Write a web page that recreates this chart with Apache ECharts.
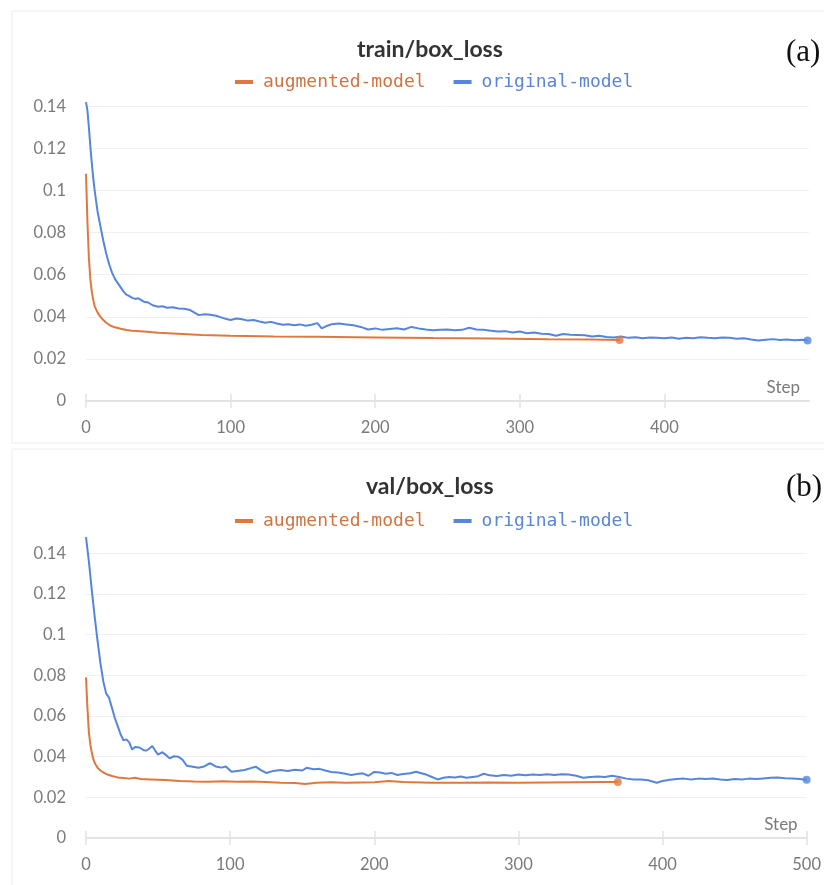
<!DOCTYPE html>
<html>
<head>
<meta charset="utf-8">
<script src="https://cdn.jsdelivr.net/npm/echarts@6/dist/echarts.min.js"></script>
<style>
  html, body { margin: 0; padding: 0; background: #fff; }
  #chart { width: 824px; height: 885px; }
</style>
</head>
<body>
<div id="chart"></div>
<script>
// [step, value] pairs
var trainAug = [[0,0.108],[1,0.085],[2,0.068],[3,0.058],[4,0.052],[5,0.048],[6,0.045],[8,0.042],[10,0.040],[12,0.0385],[14,0.0372],[16,0.0362],[18,0.0355],[20,0.0350],[24,0.0343],[28,0.0337],[32,0.0334],[40,0.0330],[50,0.0324],[60,0.0321],[80,0.0314],[100,0.0310],[130,0.0307],[160,0.0305],[200,0.0302],[240,0.0299],[280,0.0297],[320,0.0294],[350,0.0292],[369,0.0290]];

var trainOrig = [[0,0.142],[1,0.138],[2,0.130],[3,0.121],[4,0.113],[5,0.106],[6,0.100],[7,0.095],[8,0.090],[10,0.083],[12,0.076],[14,0.070],[16,0.065],[18,0.061],[20,0.058],[22,0.056],[24,0.054],[26,0.052],[28,0.0505],[30,0.0498],[32,0.0490],[34,0.0485],[36,0.0488],[38,0.0480],[40,0.0472],[43,0.0468],[46,0.0455],[50,0.0448],[53,0.0450],[56,0.0443],[60,0.0445],[64,0.0440],[68,0.0438],[72,0.0432],[75,0.0420],[78,0.0408],[82,0.0412],[86,0.0410],[90,0.0405],[94,0.0396],[97,0.0390],[100,0.0385],[104,0.0392],[108,0.0388],[112,0.0382],[116,0.0385],[120,0.0378],[124,0.0372],[128,0.0376],[132,0.0368],[136,0.0362],[140,0.0365],[144,0.0360],[148,0.0364],[152,0.0358],[156,0.0362],[160,0.0370],[163,0.0345],[166,0.0355],[170,0.0365],[175,0.0368],[180,0.0364],[185,0.0360],[190,0.0352],[195,0.0340],[200,0.0345],[205,0.0338],[210,0.0342],[215,0.0346],[220,0.0340],[225,0.0352],[230,0.0345],[235,0.0340],[240,0.0336],[245,0.0338],[250,0.0340],[255,0.0336],[260,0.0338],[265,0.0348],[270,0.0340],[275,0.0338],[280,0.0334],[285,0.0330],[290,0.0332],[295,0.0326],[300,0.0330],[305,0.0322],[310,0.0326],[315,0.0320],[320,0.0318],[325,0.0310],[330,0.0318],[335,0.0315],[340,0.0314],[345,0.0312],[350,0.0306],[355,0.0310],[360,0.0304],[365,0.0302],[370,0.0306],[375,0.0300],[380,0.0303],[385,0.0298],[390,0.0302],[395,0.0300],[400,0.0298],[405,0.0302],[410,0.0296],[415,0.0300],[420,0.0298],[425,0.0303],[430,0.0300],[435,0.0298],[440,0.0302],[445,0.0300],[450,0.0296],[455,0.0298],[460,0.0292],[465,0.0288],[470,0.0291],[475,0.0294],[480,0.0290],[485,0.0292],[490,0.0289],[495,0.0291],[499,0.0288]];

var valAug = [[0,0.079],[1,0.064],[2,0.052],[3,0.046],[4,0.042],[5,0.039],[6,0.037],[8,0.0345],[10,0.0332],[12,0.0322],[15,0.0312],[18,0.0305],[22,0.0298],[26,0.0295],[30,0.0292],[34,0.0296],[38,0.0290],[45,0.0288],[55,0.0285],[65,0.0280],[75,0.0278],[85,0.0277],[95,0.0279],[105,0.0276],[115,0.0278],[125,0.0275],[135,0.0272],[145,0.0270],[152,0.0266],[160,0.0272],[170,0.0274],[180,0.0272],[190,0.0273],[200,0.0274],[210,0.0280],[220,0.0275],[240,0.0272],[260,0.0272],[280,0.0273],[300,0.0272],[320,0.0273],[340,0.0274],[360,0.0275],[369,0.0275]];

var valOrig = [[0,0.148],[2,0.136],[4,0.122],[6,0.109],[8,0.097],[10,0.086],[12,0.077],[14,0.071],[16,0.069],[18,0.064],[20,0.059],[22,0.055],[24,0.051],[26,0.048],[28,0.0485],[30,0.0470],[32,0.0435],[34,0.0448],[37,0.0445],[40,0.0432],[42,0.0430],[44,0.0440],[46,0.0452],[48,0.0430],[50,0.0410],[53,0.0422],[56,0.0405],[58,0.0392],[61,0.0402],[64,0.0400],[67,0.0385],[70,0.0355],[74,0.0350],[78,0.0345],[82,0.0352],[86,0.0368],[90,0.0352],[94,0.0346],[97,0.0352],[101,0.0326],[105,0.0330],[110,0.0334],[115,0.0345],[118,0.0350],[121,0.0335],[125,0.0320],[130,0.0330],[135,0.0334],[140,0.0330],[145,0.0336],[150,0.0332],[153,0.0345],[158,0.0338],[162,0.0340],[166,0.0332],[170,0.0325],[175,0.0322],[180,0.0316],[184,0.0310],[188,0.0315],[192,0.0318],[196,0.0306],[200,0.0325],[204,0.0322],[208,0.0316],[212,0.0320],[216,0.0310],[220,0.0315],[225,0.0318],[229,0.0326],[232,0.0320],[236,0.0312],[240,0.0300],[244,0.0288],[248,0.0296],[252,0.0300],[256,0.0298],[260,0.0302],[264,0.0296],[268,0.0300],[272,0.0304],[276,0.0316],[280,0.0308],[285,0.0305],[290,0.0310],[295,0.0306],[300,0.0312],[305,0.0308],[310,0.0312],[315,0.0310],[320,0.0313],[325,0.0310],[330,0.0314],[335,0.0312],[340,0.0306],[345,0.0296],[350,0.0300],[355,0.0302],[360,0.0300],[365,0.0306],[370,0.0300],[375,0.0292],[380,0.0288],[385,0.0288],[390,0.0284],[396,0.0272],[400,0.0280],[405,0.0286],[410,0.0290],[415,0.0292],[420,0.0288],[425,0.0292],[430,0.0290],[435,0.0293],[440,0.0288],[445,0.0285],[450,0.0290],[455,0.0288],[460,0.0292],[465,0.0290],[470,0.0293],[475,0.0296],[480,0.0298],[485,0.0294],[490,0.0292],[495,0.0290],[500,0.0286]];

var xTicksTop = [0, 100, 200, 300, 400];
var xTicksBottom = [0, 100, 200, 300, 400, 500];
var titles = ['train/box_loss', 'val/box_loss'];
var tags = ['(a)', '(b)'];

var ORANGE = '#df783e';
var BLUE = '#5586dc';
var labelFont = 'Lato';

var chart = echarts.init(document.getElementById('chart'));

function xAxes(grid, ticks) {
  var base = {
    type: 'value', gridIndex: grid, min: 0, max: 500, position: 'bottom',
    splitLine: { show: false }
  };
  var main = Object.assign({}, base, {
    name: 'Step',
    nameLocation: 'end',
    nameGap: -9,
    nameTextStyle: { align: 'right', verticalAlign: 'bottom', padding: [0, 0, 5, 0], color: '#7a7a7a', fontSize: 17, fontFamily: labelFont },
    axisLine: { lineStyle: { color: '#e2e2e2', width: 2 } },
    axisTick: { length: 7, customValues: ticks, lineStyle: { color: '#e2e2e2', width: 1.5 } },
    axisLabel: { customValues: ticks, color: '#7a7a7a', fontSize: 16.5, fontFamily: labelFont, margin: 18 }
  });
  // second axis only to draw the upward half of each tick
  var up = Object.assign({}, base, {
    axisLine: { show: false },
    axisTick: { inside: true, length: 7, customValues: ticks, lineStyle: { color: '#e2e2e2', width: 1.5 } },
    axisLabel: { show: false }
  });
  return [main, up];
}

function yAxis(grid, max) {
  return {
    type: 'value', gridIndex: grid, min: 0, max: max, interval: 0.02,
    axisLine: { show: false },
    axisTick: { show: false },
    axisLabel: { showMaxLabel: false, color: '#7a7a7a', fontSize: 16.5, fontFamily: labelFont, margin: 20 },
    splitLine: { showMaxLine: false, lineStyle: { color: '#f0f0f0', width: 1 } }
  };
}

function lineSeries(name, data, color, xi, yi) {
  return {
    name: name, type: 'line', data: data, xAxisIndex: xi, yAxisIndex: yi,
    showSymbol: false, smooth: false, lineStyle: { color: color, width: 2 },
    itemStyle: { color: color }, z: 3
  };
}

function endDot(name, data, color, xi, yi) {
  return {
    name: name, type: 'scatter', data: [data[data.length - 1]], xAxisIndex: xi, yAxisIndex: yi,
    symbolSize: 8, itemStyle: { color: color }, z: 4
  };
}

function legend(top) {
  return {
    top: top, left: 230, icon: 'rect', itemWidth: 18, itemHeight: 4, itemGap: 28,
    textStyle: { fontFamily: 'DejaVu Sans Mono', fontSize: 18, padding: [0, 0, 0, 5] },
    data: [
      { name: 'augmented-model', textStyle: { color: '#cf7442' } },
      { name: 'original-model', textStyle: { color: '#5a86d2' } }
    ]
  };
}

var xs = xAxes(0, xTicksTop).concat(xAxes(1, xTicksBottom));

chart.setOption({
  animation: false,
  backgroundColor: '#fff',
  graphic: [
    { type: 'rect', shape: { x: 12, y: 11, width: 900, height: 432 }, style: { fill: 'none', stroke: '#ececec', lineWidth: 1 }, silent: true },
    { type: 'rect', shape: { x: 12, y: 449, width: 900, height: 460 }, style: { fill: 'none', stroke: '#ececec', lineWidth: 1 }, silent: true }
  ],
  title: [
    { text: titles[0], left: 352, top: 33, textStyle: { fontFamily: 'Lato', fontWeight: 'bold', fontSize: 23, color: '#333' } },
    { text: titles[1], left: 361, top: 470, textStyle: { fontFamily: 'Lato', fontWeight: 'bold', fontSize: 23, color: '#333' } },
    { text: tags[0], left: 781, top: 32, textStyle: { fontFamily: 'Liberation Serif', fontWeight: 'normal', fontSize: 31, color: '#111' } },
    { text: tags[1], left: 781, top: 467, textStyle: { fontFamily: 'Liberation Serif', fontWeight: 'normal', fontSize: 31, color: '#111' } }
  ],
  legend: [legend(68), legend(507)],
  grid: [
    { left: 86, right: 15, top: 99, bottom: 484 },
    { left: 86, right: 15, top: 535, bottom: 47 }
  ],
  xAxis: xs,
  yAxis: [yAxis(0, 0.1435), yAxis(1, 0.149)],
  series: [
    lineSeries('augmented-model', trainAug, ORANGE, 0, 0),
    lineSeries('original-model', trainOrig, BLUE, 0, 0),
    endDot('augmented-model', trainAug, ORANGE, 0, 0),
    endDot('original-model', trainOrig, BLUE, 0, 0),
    lineSeries('augmented-model', valAug, ORANGE, 2, 1),
    lineSeries('original-model', valOrig, BLUE, 2, 1),
    endDot('augmented-model', valAug, ORANGE, 2, 1),
    endDot('original-model', valOrig, BLUE, 2, 1)
  ]
});
</script>
</body>
</html>
